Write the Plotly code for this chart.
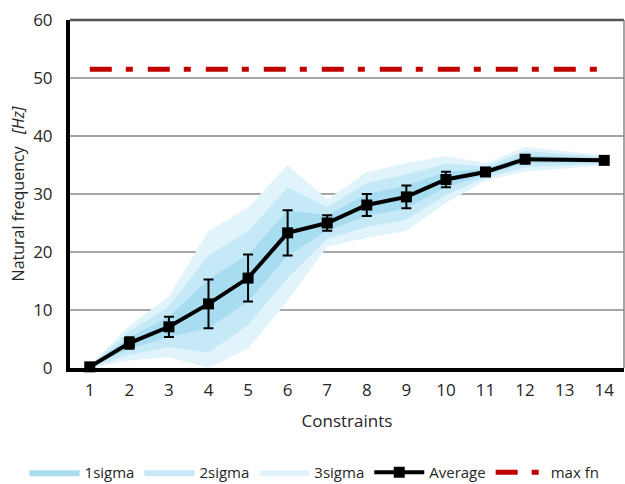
import plotly.graph_objects as go

constraints = [1, 2, 3, 4, 5, 6, 7, 8, 9, 10, 11, 12, 14]
average = [0.2, 4.3, 7.1, 11.05, 15.5, 23.3, 25.0, 28.1, 29.5, 32.5, 33.8, 36.0, 35.8]
err = [0.1, 1.0, 1.75, 4.2, 4.05, 3.9, 1.35, 1.9, 1.95, 1.35, 0.5, 0.7, 0.3]

s1_upper = [0.3, 5.3, 8.85, 15.25, 19.55, 27.2, 26.35, 30.0, 31.45, 33.85, 34.3, 36.7, 36.1]
s1_lower = [0.1, 3.3, 5.35, 6.85, 11.45, 19.4, 23.65, 26.2, 27.55, 31.15, 33.3, 35.3, 35.5]
s2_upper = [0.4, 6.3, 10.6, 19.45, 23.6, 31.1, 27.7, 31.9, 33.4, 35.2, 34.8, 37.4, 36.4]
s2_lower = [0.0, 2.3, 3.6, 2.65, 7.4, 15.5, 22.3, 24.3, 25.6, 29.8, 32.8, 34.6, 35.2]
s3_upper = [0.5, 7.3, 12.35, 23.65, 27.65, 35.0, 29.05, 33.8, 35.35, 36.55, 35.3, 38.1, 36.7]
s3_lower = [0.0, 1.3, 1.85, 0.0, 3.35, 11.6, 20.95, 22.4, 23.65, 28.45, 32.3, 33.9, 34.9]

max_fn_x = [1, 14]
max_fn = [51.5, 51.5]

tick_labels = [str(i) for i in range(1, 15)]

FONT = "Open Sans"
TXT = "#262626"

fig = go.Figure()

def band(upper, lower, name, color, rank):
    fig.add_trace(go.Scatter(
        x=constraints + constraints[::-1],
        y=upper + lower[::-1],
        fill="toself", fillcolor=color, mode="lines",
        line=dict(width=0, color=color), name=name,
        legendrank=rank, hoverinfo="skip"))

band(s3_upper, s3_lower, "3sigma", "#e2f4fb", 3)
band(s2_upper, s2_lower, "2sigma", "#c6e9f7", 2)
band(s1_upper, s1_lower, "1sigma", "#a8dcf1", 1)

fig.add_trace(go.Scatter(
    x=constraints, y=average, name="Average", mode="lines+markers",
    line=dict(color="black", width=4),
    marker=dict(symbol="square", size=11, color="black"),
    error_y=dict(type="data", array=err, color="black", thickness=2, width=5),
    cliponaxis=False, legendrank=4))

fig.add_trace(go.Scatter(
    x=max_fn_x, y=max_fn, name="max fn", mode="lines",
    line=dict(color="#c00000", width=5, dash="22px,14px,7px,15px"),
    legendrank=5))

fig.update_layout(
    width=625, height=484,
    margin=dict(l=70, r=1, t=20, b=116, autoexpand=False),
    paper_bgcolor="white", plot_bgcolor="white",
    font=dict(family=FONT, size=16, color=TXT),
    showlegend=True,
    legend=dict(orientation="h",
                x=-0.082, xanchor="left", y=-0.3, yanchor="middle",
                font=dict(size=15, color=TXT), itemwidth=50,
                traceorder="normal"),
    shapes=[
        dict(type="line", xref="paper", yref="paper", x0=0, x1=1, y0=1, y1=1,
             line=dict(color="#555555", width=2.5)),
        dict(type="line", xref="paper", yref="paper", x0=1, x1=1, y0=0, y1=1,
             line=dict(color="#888888", width=1.5)),
    ],
)

fig.update_xaxes(
    range=[0.5, 14.5], tickmode="array", tickvals=list(range(1, 15)), ticktext=tick_labels,
    showgrid=False, zeroline=False, showline=True, linecolor="black", linewidth=4,
    ticks="", tickfont=dict(size=17, color=TXT), ticklabelstandoff=4,
    title=dict(text="Constraints", font=dict(size=17, color=TXT), standoff=16))

fig.update_yaxes(
    range=[0, 60], dtick=10, showgrid=True, gridcolor="#a6a6a6", gridwidth=1.5,
    zeroline=False, showline=True, linecolor="black", linewidth=4,
    ticks="", tickfont=dict(size=17, color=TXT), ticklabelstandoff=10,
    title=dict(text="Natural frequency   <i>[Hz]</i>", font=dict(size=16, color=TXT), standoff=6))

fig.write_html("out.html")
